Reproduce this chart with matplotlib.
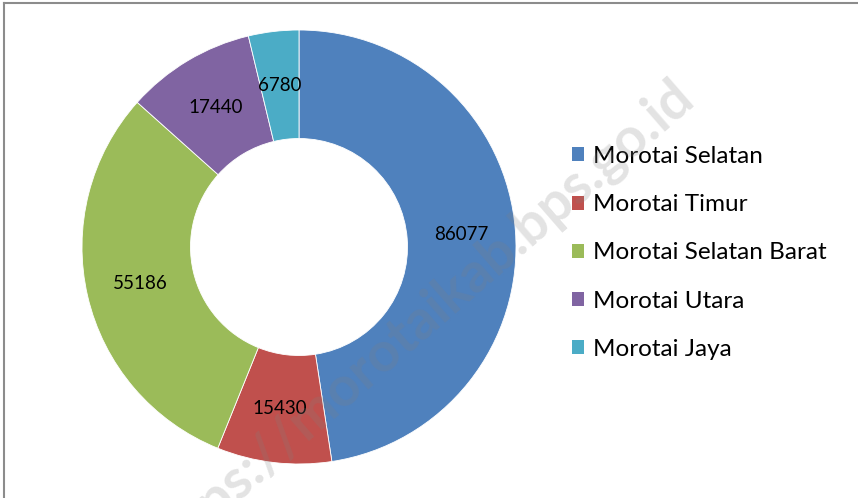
import matplotlib.pyplot as plt
from matplotlib.patches import Patch

plt.rcParams['font.family'] = ['Lato', 'DejaVu Sans']

# Population by district
districts = ['Morotai Selatan', 'Morotai Timur', 'Morotai Selatan Barat',
             'Morotai Utara', 'Morotai Jaya']
values = [86077, 15430, 55186, 17440, 6780]
colors = ['#4F81BD', '#C0504D', '#9BBB59', '#8064A2', '#4BACC6']

W, H = 858, 498
fig = plt.figure(figsize=(W / 100, H / 100), dpi=100)

# donut area: center (299, 247), radius 217 px
cx, cy, r = 299, 247, 217
ax = fig.add_axes([(cx - r) / W, (H - cy - r) / H, 2 * r / W, 2 * r / H])

wedges, texts, autotexts = ax.pie(
    values, colors=colors, startangle=90, counterclock=False,
    radius=1.0, wedgeprops=dict(width=0.5, edgecolor='white', linewidth=0.6),
    autopct=lambda p: '{:.0f}'.format(p * sum(values) / 100),
    pctdistance=0.75, textprops=dict(fontsize=13.5, color='black'))
ax.set_xlim(-1, 1)
ax.set_ylim(-1, 1)
ax.set_aspect('equal')

handles = [Patch(facecolor=c, edgecolor='none') for c in colors]
fig.legend(handles, districts, loc='upper left',
           bbox_to_anchor=(572 / W, 1 - 146 / H), frameon=False,
           fontsize=17.5, labelspacing=1.12, handlelength=0.5, handleheight=0.5,
           handletextpad=0.35, borderpad=0, borderaxespad=0)

# watermark (partly runs off the bottom edge, as in the source)
fig.text(670 / W, 1 - 70 / H, 'https://morotaikab.bps.go.id', fontsize=40,
         fontweight='bold', color='#808080', alpha=0.22, rotation=41,
         ha='right', va='top', rotation_mode='anchor', zorder=10)

# outer frame (left and top edges)
fig.add_artist(plt.Line2D([3.5 / W, 3.5 / W], [0, 1 - 3 / H], color='#8c8c8c', lw=1.5))
fig.add_artist(plt.Line2D([3.5 / W, 1], [1 - 3 / H, 1 - 3 / H], color='#8c8c8c', lw=1.5))

fig.savefig('out.png', dpi=100)
